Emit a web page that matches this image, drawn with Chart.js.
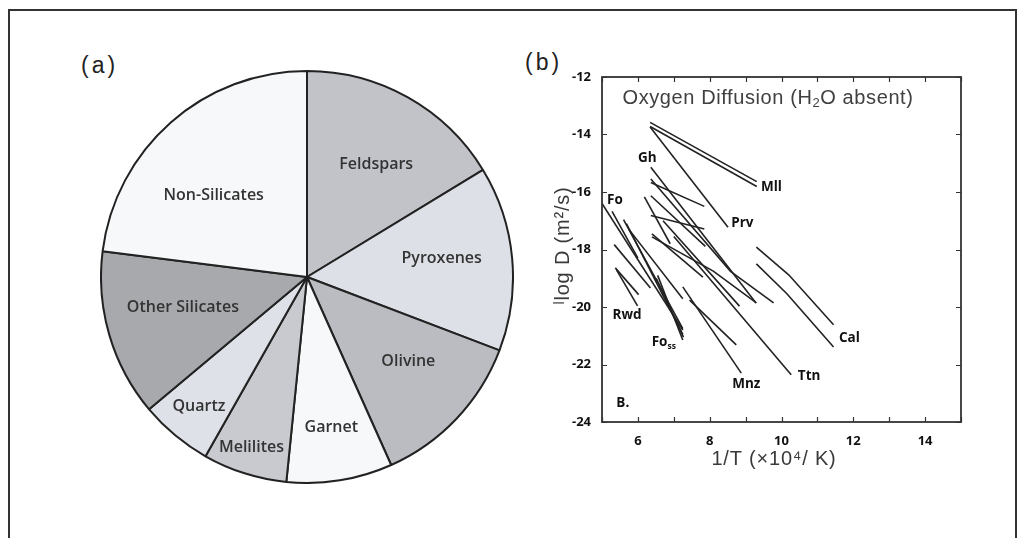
<!DOCTYPE html>
<html><head><meta charset="utf-8">
<script src="https://cdn.jsdelivr.net/npm/chart.js@4.4.0/dist/chart.umd.min.js"></script>
<style>
html,body{margin:0;padding:0;background:#fff;width:1026px;height:538px;overflow:hidden;position:relative}
#frame{position:absolute;left:8px;top:9px;width:1009px;height:620px;border:2px solid #333;box-sizing:border-box}
.panel{position:absolute;font-family:"Liberation Sans",Arial,sans-serif;font-size:23px;line-height:1;color:#222;letter-spacing:3px}
#pie{position:absolute;left:100px;top:70px}
#line{position:absolute;left:520px;top:40px}
</style></head><body>
<div id="frame"></div>
<div class="panel" style="left:81px;top:54px">(a)</div>
<div class="panel" style="left:525px;top:51px">(b)</div>
<canvas id="pie" width="414" height="414"></canvas>
<canvas id="line" width="480" height="440"></canvas>
<script>
// ---------- Panel (a): pie ----------
const pieLabels = ['Feldspars','Pyroxenes','Olivine','Garnet','Melilites','Quartz','Other Silicates','Non-Silicates'];
const pieValues = [16.3, 14.5, 12.5, 8.3, 6.6, 5.7, 13.1, 23.0];
const pieColors = ['#c1c3c9','#dde0e6','#babcc1','#f7f8fa','#c8cad0','#dee1e8','#a8a9ad','#f7f8fa'];
// label placement style (fraction of radius, angle nudge in degrees)
const pieLabelR = [0.64, 0.66, 0.64, 0.74, 0.87, 0.82, 0.62, 0.60];
const pieLabelDA = [2.3, -2.7, -3.6, 0, 0.4, 0, 2.7, -7.6];

// ---------- Panel (b): oxygen diffusion lines ----------
const xTickLabels = [6, 8, 10, 12, 14];
const yTickLabels = [-24, -22, -20, -18, -16, -14, -12];
const mllLines = [
  [[6.34,-13.58],[9.31,-15.64]],
  [[6.34,-13.72],[9.31,-15.81]]
];
const prvLines = [
  [[6.34,-13.74],[8.51,-17.23]]
];
const ghLines = [
  [[6.36,-15.14],[9.29,-19.86]],
  [[6.36,-15.55],[8.58,-18.76],[9.78,-19.86]],
  [[6.36,-15.67],[7.85,-16.50]],
  [[6.36,-16.13],[7.88,-17.89]],
  [[6.36,-16.82],[7.85,-17.29]],
  [[6.18,-16.17],[6.90,-17.80]],
  [[6.70,-17.00],[8.83,-19.97]],
  [[6.39,-17.46],[7.81,-18.96]],
  [[6.39,-17.56],[8.10,-18.75],[9.30,-19.86]]
];
const foLines = [
  [[5.00,-16.40],[7.25,-20.80]],
  [[5.28,-16.67],[6.00,-18.30]],
  [[5.34,-17.83],[6.35,-19.34]],
  [[5.75,-17.30],[7.25,-19.71]]
];
const fossLines = [
  [[5.60,-16.96],[7.25,-20.75]],
  [[5.68,-17.10],[7.25,-20.95]],
  [[6.51,-19.00],[7.27,-21.05]],
  [[6.55,-18.90],[7.25,-21.15]]
];
const rwdLines = [
  [[5.37,-18.64],[6.02,-19.57]],
  [[5.40,-18.70],[5.99,-19.96]]
];
const mnzLines = [
  [[7.25,-19.30],[8.88,-22.30]],
  [[7.44,-19.76],[8.74,-21.32]]
];
const ttnLines = [
  [[7.00,-17.55],[10.27,-22.36]]
];
const calLines = [
  [[9.30,-17.92],[10.20,-18.88],[11.45,-20.62]],
  [[9.30,-18.50],[10.15,-19.54],[11.45,-21.39]]
];
const mineralNames = ['Mll','Prv','Gh','Fo','Rwd','Fo','Mnz','Ttn','Cal','B.'];
const mineralSubs  = ['','','','','','ss','','','',''];
const mineralX = [9.72, 8.91, 6.26, 5.36, 5.70, 6.72, 9.02, 10.77, 11.89, 5.58];
const mineralY = [-15.82, -17.07, -14.82, -16.29, -20.27, -21.23, -22.70, -22.41, -21.10, -23.34];

// ---------- build pie ----------
const pieLabelPlugin = {
  id: 'pieLabels',
  afterDatasetsDraw(chart) {
    const ctx = chart.ctx;
    const meta = chart.getDatasetMeta(0);
    ctx.save();
    ctx.font = '600 16px "Open Sans", sans-serif';
    ctx.fillStyle = '#333';
    ctx.textAlign = 'center';
    ctx.textBaseline = 'middle';
    meta.data.forEach((arc, i) => {
      const p = arc.getProps(['x','y','startAngle','endAngle','outerRadius'], true);
      const a = (p.startAngle + p.endAngle) / 2 + pieLabelDA[i] * Math.PI / 180;
      const r = p.outerRadius * pieLabelR[i];
      ctx.fillText(pieLabels[i], p.x + Math.cos(a) * r, p.y + Math.sin(a) * r);
    });
    ctx.restore();
  }
};
new Chart(document.getElementById('pie'), {
  type: 'pie',
  data: { labels: pieLabels, datasets: [{ data: pieValues, backgroundColor: pieColors, borderColor: '#222', borderWidth: 2 }] },
  options: {
    responsive: false, animation: false, devicePixelRatio: 1,
    layout: { padding: 0 },
    plugins: { legend: { display: false }, tooltip: { enabled: false } }
  },
  plugins: [pieLabelPlugin]
});

// ---------- build line chart ----------
const allGroups = [mllLines, prvLines, ghLines, foLines, fossLines, rwdLines, mnzLines, ttnLines, calLines];
const datasets = [];
allGroups.forEach(g => g.forEach(pl => datasets.push({
  data: pl.map(([x, y]) => ({ x, y })),
  showLine: true, borderColor: '#222', borderWidth: 1.6,
  pointRadius: 0, fill: false, tension: 0
})));

const tickFont = { family: '"Open Sans", sans-serif', size: 13, weight: 'bold' };
const labFont = 'bold 13.5px "Open Sans", sans-serif';
const subFont = 'bold 8.5px "Open Sans", sans-serif';
const framePlugin = {
  id: 'framePlugin',
  afterDraw(chart) {
    const { ctx, chartArea: a, scales: { x, y } } = chart;
    ctx.save();
    ctx.strokeStyle = '#333';
    ctx.lineWidth = 1.2;
    ctx.beginPath();
    x.ticks.forEach(t => {
      const px = Math.round(x.getPixelForValue(t.value)) + 0.5;
      ctx.moveTo(px, a.bottom); ctx.lineTo(px, a.bottom - 5);
      ctx.moveTo(px, a.top); ctx.lineTo(px, a.top + 5);
    });
    y.ticks.forEach(t => {
      const py = Math.round(y.getPixelForValue(t.value)) + 0.5;
      ctx.moveTo(a.left, py); ctx.lineTo(a.left + 5, py);
      ctx.moveTo(a.right, py); ctx.lineTo(a.right - 5, py);
    });
    ctx.stroke();
    ctx.lineWidth = 1.8;
    ctx.strokeRect(a.left, a.top, a.right - a.left, a.bottom - a.top);

    // mineral labels
    ctx.fillStyle = '#111';
    ctx.textBaseline = 'middle';
    mineralNames.forEach((n, i) => {
      const px = x.getPixelForValue(mineralX[i]);
      const py = y.getPixelForValue(mineralY[i]);
      ctx.font = labFont;
      const w = ctx.measureText(n).width;
      let sw = 0;
      if (mineralSubs[i]) { ctx.font = subFont; sw = ctx.measureText(mineralSubs[i]).width; }
      const x0 = px - (w + sw) / 2;
      ctx.textAlign = 'left';
      ctx.font = labFont;
      ctx.fillText(n, x0, py);
      if (mineralSubs[i]) { ctx.font = subFont; ctx.fillText(mineralSubs[i], x0 + w, py + 4); }
    });

    // title inside plot
    ctx.fillStyle = '#404040';
    ctx.textAlign = 'left';
    const big = '20px "Liberation Sans", Arial, sans-serif';
    const small = '13px "Liberation Sans", Arial, sans-serif';
    ctx.letterSpacing = '0.6px';
    const parts = [['Oxygen Diffusion (H', big, 0], ['2', small, 5], ['O absent)', big, 0]];
    let tw = 0;
    parts.forEach(p => { ctx.font = p[1]; tw += ctx.measureText(p[0]).width; });
    let cx = (a.left + 166) - tw / 2;
    const ty = a.top + 21;
    parts.forEach(p => { ctx.font = p[1]; ctx.fillText(p[0], cx, ty + p[2]); cx += ctx.measureText(p[0]).width; });

    // axis titles
    ctx.fillStyle = '#3a3a3a';
    ctx.letterSpacing = '0.8px';
    ctx.font = '20px "Liberation Sans", "DejaVu Sans", Arial, sans-serif';
    ctx.textAlign = 'center';
    ctx.fillText('1/T (\u00d710\u2074/ K)', a.left + 172, a.bottom + 37);
    ctx.save();
    ctx.translate(a.left - 39, (a.top + a.bottom) / 2 - 4);
    ctx.rotate(-Math.PI / 2);
    ctx.fillText('\u02e1log D (m\u00b2/s)', 0, 0);
    ctx.restore();
    ctx.restore();
  }
};

new Chart(document.getElementById('line'), {
  type: 'scatter',
  data: { datasets },
  options: {
    responsive: false, animation: false, devicePixelRatio: 1,
    layout: { padding: { top: 37, right: 39, left: 0, bottom: 0 } },
    plugins: { legend: { display: false }, tooltip: { enabled: false } },
    scales: {
      x: {
        type: 'linear', min: 5, max: 15,
        grid: { display: false }, border: { display: false },
        ticks: {
          stepSize: 1, autoSkip: false, maxRotation: 0, padding: 3,
          font: tickFont, color: '#111',
          callback: v => xTickLabels.includes(v) ? String(v) : ''
        },
        afterFit(s) { s.height = 58; }
      },
      y: {
        type: 'linear', min: -24, max: -12,
        grid: { display: false }, border: { display: false },
        ticks: {
          stepSize: 2, padding: 3, font: tickFont, color: '#111',
          callback: v => yTickLabels.includes(v) ? String(v) : ''
        },
        afterFit(s) { s.width = 82; }
      }
    }
  },
  plugins: [framePlugin]
});
</script>
</body></html>
